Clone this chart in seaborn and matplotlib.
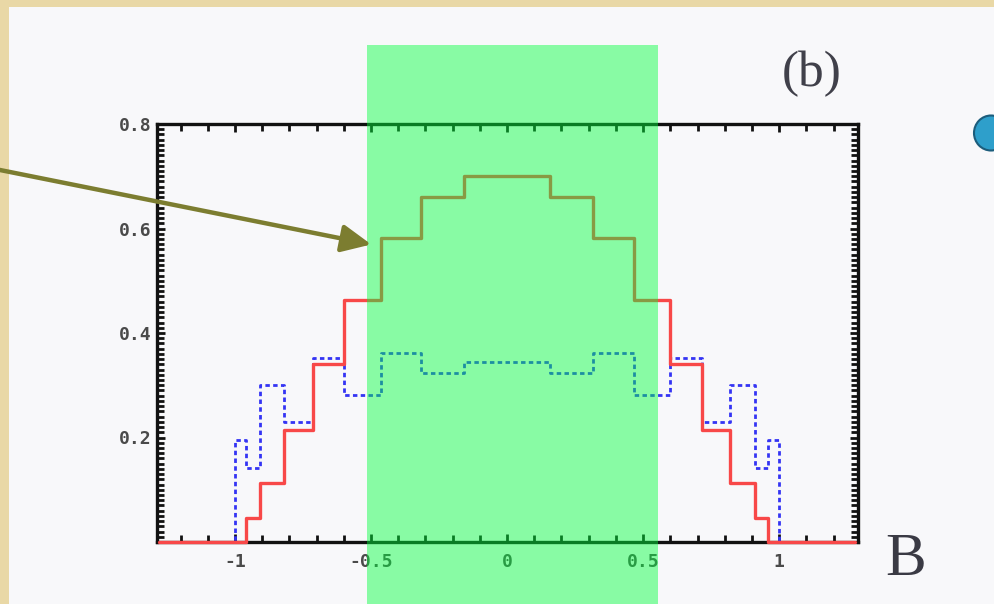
import numpy as np
import pandas as pd
import matplotlib
matplotlib.use("Agg")
import matplotlib.pyplot as plt
import matplotlib.patches as mpatches
from matplotlib.ticker import MultipleLocator, FixedLocator
import seaborn as sns

# Bin edges in B (outer zero bins run to the frame)
bin_edges = [-1.28, -1.0, -0.96, -0.91, -0.82, -0.715, -0.6, -0.465, -0.315, -0.157,
             0.157, 0.315, 0.465, 0.6, 0.715, 0.82, 0.91, 0.96, 1.0, 1.28]
# Per-bin heights of the two distributions
solid_vals = [0, 0, 0.046, 0.113, 0.214, 0.34, 0.463, 0.582, 0.66, 0.70,
              0.66, 0.582, 0.463, 0.34, 0.214, 0.113, 0.046, 0, 0]
dashed_vals = [0, 0.195, 0.142, 0.30, 0.23, 0.352, 0.281, 0.362, 0.323, 0.344,
               0.323, 0.362, 0.281, 0.352, 0.23, 0.30, 0.142, 0.195, 0]
x_ticks = [-1, -0.5, 0, 0.5, 1]
x_tick_labels = ["-1", "-0.5", "0", "0.5", "1"]
y_ticks = [0.2, 0.4, 0.6, 0.8]
y_tick_labels = ["0.2", "0.4", "0.6", "0.8"]
band_range = (-0.515, 0.555)
panel_tag = "(b)"
axis_name = "B"

sns.set_theme(style="white")
plt.rcParams["font.family"] = ["DejaVu Sans"]

W, H = 994, 604
fig = plt.figure(figsize=(W / 100, H / 100), dpi=100, facecolor="#E9D8A6")

# slide panel
fig.add_artist(mpatches.Rectangle((9 / W, 0), 1, 1 - 7 / H, transform=fig.transFigure,
                                  facecolor="#F8F8FA", edgecolor="none", zorder=0))

ax = fig.add_axes([157 / W, 1 - 542 / H, (858 - 157) / W, (542 - 124) / H])
ax.set_facecolor("#F8F8FA")

def step_frame(edges, vals, name):
    return pd.DataFrame({"B": edges, "value": list(vals) + [vals[-1]], "series": name})

df_solid = step_frame(bin_edges, solid_vals, "solid")
df_dashed = step_frame(bin_edges, dashed_vals, "dashed")

sns.lineplot(data=df_dashed, x="B", y="value", ax=ax, drawstyle="steps-post",
             color="#3434F4", linewidth=2.0, linestyle=(0, (1.6, 1.2)),
             zorder=3, clip_on=False, estimator=None, sort=False)
sns.lineplot(data=df_solid, x="B", y="value", ax=ax, drawstyle="steps-post",
             color="#F84848", linewidth=2.4, zorder=3.2, clip_on=False,
             estimator=None, sort=False)

ax.set_xlim(-1.287, 1.29)
ax.set_ylim(0, 0.8)
ax.set_xlabel("")
ax.set_ylabel("")

ax.xaxis.set_major_locator(FixedLocator(x_ticks))
ax.yaxis.set_major_locator(FixedLocator(y_ticks))
ax.set_xticklabels(x_tick_labels)
ax.set_yticklabels(y_tick_labels)
ax.xaxis.set_minor_locator(MultipleLocator(0.1))
ax.yaxis.set_minor_locator(MultipleLocator(0.01))

for lab in ax.get_xticklabels() + ax.get_yticklabels():
    lab.set_fontfamily("DejaVu Sans Mono")
    lab.set_fontweight("bold")
    lab.set_fontsize(13)
    lab.set_color("#4A4A4A")

ax.tick_params(which="both", direction="in", top=True, right=True, bottom=True, left=True,
               color="#111111", width=2.0)
ax.tick_params(which="major", length=6)
ax.tick_params(which="minor", length=5)
ax.tick_params(axis="x", which="major", pad=8)
ax.tick_params(axis="y", which="major", pad=4)

for sp in ax.spines.values():
    sp.set_visible(True)
    sp.set_color("#111111")
    sp.set_linewidth(2.4)

# translucent green band laid over everything in the selected B range
ax.axvspan(band_range[0], band_range[1], ymin=-0.2, ymax=1.189, clip_on=False,
           facecolor=(0.0, 1.0, 0.24), alpha=0.45, edgecolor="none", zorder=10)

# labels
fig.text(812 / W, 1 - 74 / H, panel_tag, family="Liberation Serif", fontsize=37,
         color="#40404A", ha="center", va="center")
fig.text(906 / W, 1 - 560 / H, axis_name, family="Liberation Serif", fontsize=44,
         color="#3A3A44", ha="center", va="center")

# pointer arrow
arrow = mpatches.FancyArrowPatch((-5 / W, 1 - 169 / H), (374 / W, 1 - 245 / H),
                                 transform=fig.transFigure,
                                 arrowstyle="-|>,head_length=0.9,head_width=0.42",
                                 mutation_scale=20, color="#7C7D30", linewidth=3.2,
                                 zorder=20)
fig.add_artist(arrow)

# bullet at the right edge
fig.add_artist(mpatches.Ellipse((991 / W, 1 - 133 / H), 34 / W, 35 / H,
                                transform=fig.transFigure, facecolor="#2E9FCB",
                                edgecolor="#1C5D7C", linewidth=1.5, zorder=20))

fig.savefig("out.png", dpi=100, facecolor=fig.get_facecolor())
